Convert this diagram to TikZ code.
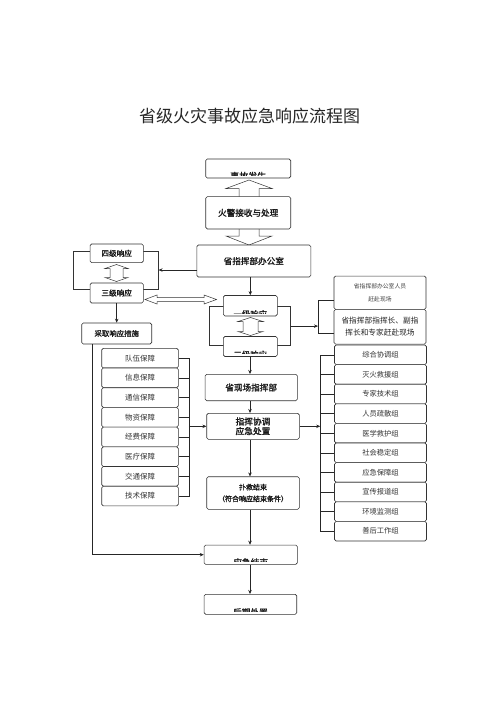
\documentclass[tikz,border=0pt]{standalone}
\usepackage{fontspec}
\setmainfont{Noto Sans CJK SC}
\newfontfamily\bcjk[FakeBold=1.6]{Noto Sans CJK SC}
\usetikzlibrary{arrows.meta,calc}
\tikzset{
 bx/.style={draw=black!80, fill=white, rounded corners=1.6pt, line width=0.6pt, inner sep=0pt, align=center},
 lp/.style={draw=black!80, line width=0.6pt, inner sep=0pt},
 arr/.style={draw=black!85, line width=0.6pt, -{Stealth[length=4pt,width=3.5pt]}},
 ln/.style={draw=black!85, line width=0.6pt},
 hol/.style={draw=black!80, fill=white, line width=0.5pt, line join=miter},
 fb/.style={font=\bcjk\fontsize{8.6}{10}\selectfont, text=black!90},
 fbs/.style={font=\bcjk\fontsize{7.6}{9}\selectfont, text=black!90},
 fr/.style={font=\fontsize{7.5}{9}\selectfont, text=black!80},
}
\begin{document}
\begin{tikzpicture}[x=1pt,y=-1pt]
\useasboundingbox (0,0) rectangle (496,702);
\node[font=\fontsize{17}{20}\selectfont, text=black!85] (title) at (249.5,115.7) {省级火灾事故应急响应流程图};

% long hollow double arrow (behind fire box)
\draw[hol] (249,180) -- (272,188.5) -- (259,188.5) -- (259,236) -- (272,236) -- (249,245) -- (226,236) -- (239,236) -- (239,188.5) -- (226,188.5) -- cycle;

\node[bx, minimum width=85pt, minimum height=19pt] (top) at (248.2,168.5) {};
\begin{scope}
\clip ($(top.south west)+(0.6,-3)$) rectangle ($(top.north east)+(-0.6,0.6)$);
\node[fb, font=\bcjk\fontsize{9}{10}\selectfont] (toptx) at ($(top.south)+(0,-2.3)$) {事故发生};
\end{scope}

\node[bx, fb, minimum width=85pt, minimum height=32.3pt] (fire) at (248.2,212.8) {火警接收与处理};
\node[bx, fb, minimum width=114pt, minimum height=32pt] (office) at (253.8,261) {省指挥部办公室};

% left loop
\node[lp, minimum width=85pt, minimum height=38pt] (loopL) at (115.8,270) {};
\node[bx, fbs, minimum width=53.3pt, minimum height=18.7pt] (si) at (116.7,253.3) {四级响应};
\node[bx, fbs, minimum width=53.3pt, minimum height=20pt] (san) at (116.7,293) {三级响应};
\draw[hol] (116.5,264.5) -- (128,268.5) -- (123,268.5) -- (123,277.5) -- (128,277.5) -- (116.5,281.5) -- (105,277.5) -- (110,277.5) -- (110,268.5) -- (105,268.5) -- cycle;
\draw[arr] (office.west |- loopL.east) -- (loopL.east);

\node[bx, fbs, font=\bcjk\fontsize{7.4}{9}\selectfont, minimum width=70pt, minimum height=21pt] (cqu) at (116.7,333.5) {采取响应措施};
\draw[arr] (san.south) -- (cqu.north);

% horizontal hollow double arrow
\draw[hol] (145,299.5) -- (157,295) -- (157,297.5) -- (204,297.5) -- (204,295) -- (216.5,299.5) -- (204,304) -- (204,301.5) -- (157,301.5) -- (157,304) -- cycle;

% right loop
\node[lp, minimum width=80.7pt, minimum height=38.8pt] (loopR) at (250,326.1) {};
\node[bx, minimum width=54pt, minimum height=20.5pt] (yi) at (250.3,305.7) {};
\node[bx, minimum width=54pt, minimum height=20pt] (er) at (250.3,346.5) {};
\begin{scope}
\clip ($(yi.south west)+(0.6,-3)$) rectangle ($(yi.north east)+(-0.6,0.6)$);
\node[fb, font=\bcjk\fontsize{8.4}{10}\selectfont] (yitx) at ($(yi.south)+(0,-2.2)$) {一级响应};
\end{scope}
\begin{scope}
\clip ($(er.south west)+(0.6,-3)$) rectangle ($(er.north east)+(-0.6,0.6)$);
\node[fb, font=\bcjk\fontsize{8.4}{10}\selectfont] (ertx) at ($(er.south)+(0,-2.2)$) {二级响应};
\end{scope}
\draw[hol] (250.5,317.5) -- (263,321.5) -- (258,321.5) -- (258,331.5) -- (263,331.5) -- (250.5,335.5) -- (238,331.5) -- (243,331.5) -- (243,321.5) -- (238,321.5) -- cycle;
\draw[arr] (office.south -| yi.north) -- (yi.north);

% right top boxes
\node[bx, font=\fontsize{5.8}{12.5}\selectfont, text=black!75, minimum width=92pt, minimum height=33.3pt] (rA) at (380,292.7) {省指挥部办公室人员\\赶赴现场};
\node[bx, font=\fontsize{7.7}{12.7}\selectfont, text=black!85, minimum width=92pt, minimum height=34.7pt] (rB) at (380,326.7) {省指挥部指挥长、副指\\挥长和专家赶赴现场};
\coordinate (brA) at (318,300);
\coordinate (brB) at (318,333);
\draw[ln] (rA.west |- brA) -- (brA) -- (brB) -- (rB.west |- brB);
\draw[arr] (loopR.east) -- (loopR.east -| brA);

% center column
\node[bx, fb, minimum width=92.3pt, minimum height=26.4pt] (xc) at (251.2,387.5) {省现场指挥部};
\node[bx, fb, font=\bcjk\fontsize{8.7}{9.6}\selectfont, minimum width=92.6pt, minimum height=26pt] (zh) at (253,426.3) {指挥协调\\应急处置};
\node[bx, fb, font=\bcjk\fontsize{7}{11.7}\selectfont, minimum width=92.6pt, minimum height=32.6pt] (pj) at (253,493) {扑救结束\\（符合响应结束条件）};
\node[bx, minimum width=93.3pt, minimum height=19.3pt] (end1) at (250.7,554.7) {};
\node[bx, minimum width=92.7pt, minimum height=20pt] (end2) at (250.4,604.3) {};
\begin{scope}
\clip ($(end1.south west)+(0.6,-3)$) rectangle ($(end1.north east)+(-0.6,0.6)$);
\node[fb, font=\bcjk\fontsize{8.7}{10}\selectfont] (end1tx) at ($(end1.south)+(0,-2.3)$) {应急结束};
\end{scope}
\begin{scope}
\clip ($(end2.south west)+(0.6,-3)$) rectangle ($(end2.north east)+(-0.6,0.6)$);
\node[fb, font=\bcjk\fontsize{8.7}{10}\selectfont] (end2tx) at ($(end2.south)+(0,-2.3)$) {后期处置};
\end{scope}

\draw[arr] (er.south -| 250,0) -- (xc.north -| 250,0);
\draw[arr] (xc.south -| 250,0) -- (zh.north -| 250,0);
\draw[arr] (zh.south -| 250,0) -- (pj.north -| 250,0);
\draw[arr] (pj.south -| 250,0) -- (end1.north -| 250,0);
\draw[arr] (end1.south -| 250,0) -- (end2.north -| 250,0);

% right list
\foreach \t [count=\i] in {综合协调组,灭火救援组,专家技术组,人员疏散组,医学救护组,社会稳定组,应急保障组,宣传报道组,环境监测组,善后工作组}{
  \node[bx, fr, font=\fontsize{7.3}{9}\selectfont, minimum width=92pt, minimum height=19.6pt] (g\i) at (380.5,{354.8+19.6*(\i-1)}) {\t};
}
\coordinate (gb) at ($(g1.west)+(-14,0)$);
\draw[ln] (g1.west) -- (gb) |- (g10.west);
\foreach \i in {2,...,9}{ \draw[ln] (g\i.west) -- (g\i.west -| gb); }
\draw[arr] (zh.east) -- (zh.east -| gb);

% left list
\foreach \t [count=\i] in {队伍保障,信息保障,通信保障,物资保障,经费保障,医疗保障,交通保障,技术保障}{
  \node[bx, fr, minimum width=76.6pt, minimum height=19.7pt] (b\i) at (140,{358.15+19.7*(\i-1)}) {\t};
}
\coordinate (bb) at ($(b1.east)+(10.3,0)$);
\draw[ln] (b1.east) -- (bb) |- (b8.east);
\foreach \i in {2,...,7}{ \draw[ln] (b\i.east) -- (b\i.east -| bb); }
\draw[arr] (zh.west -| bb) -- (zh.west);

% long line from cqu to end1
\coordinate (cq) at ($(cqu.south west)+(10.6,0)$);
\draw[arr] (cq) |- (end1.west);
\end{tikzpicture}
\end{document}
